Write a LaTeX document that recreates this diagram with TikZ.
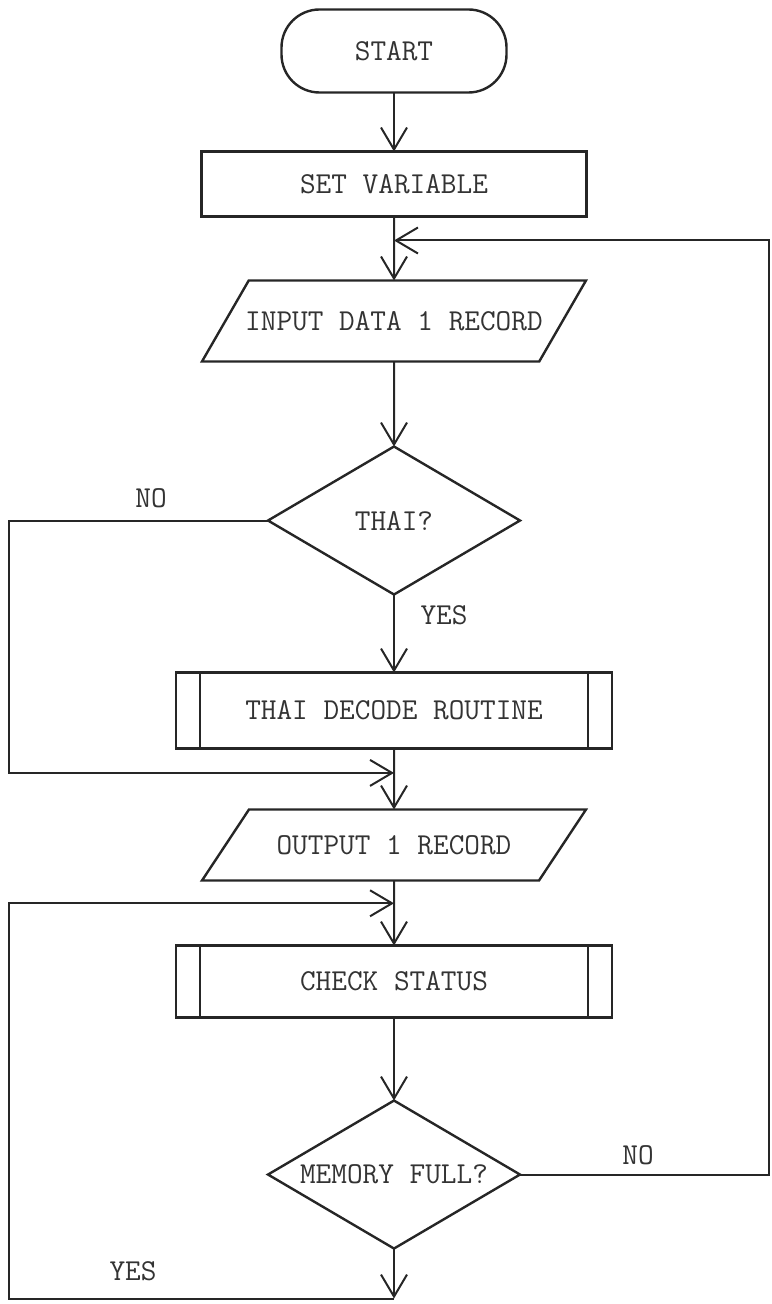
\documentclass[tikz,border=0pt]{standalone}
\usepackage{fontspec}
\usetikzlibrary{positioning,calc,shapes.geometric,arrows.meta}

\begin{document}
\begin{tikzpicture}[
  x=0.5pt, y=0.5pt,
  >={Straight Barb[length=11pt, width=13pt]},
  every node/.style={font=\ttfamily\fontsize{15.2pt}{17pt}\selectfont, text=black!80},
  line/.style={draw=black!85, line width=1pt},
  box/.style={draw=black!85, line width=1.2pt, align=center, inner sep=0pt, outer sep=0pt},
  terminal/.style={box, rounded corners=19pt, minimum width=112.5pt, minimum height=41.5pt},
  process/.style={box, minimum width=192.5pt, minimum height=32.5pt},
  io/.style={box, trapezium, trapezium stretches body, minimum width=192pt,
    inner xsep=-10pt, text height=9pt, text depth=0pt},
  decision/.style={box, diamond, aspect=1.7, minimum width=126pt, minimum height=74pt},
  subroutine/.style={box, minimum width=218pt, minimum height=38pt,
    path picture={
      \draw[line width=1.2pt] ([xshift=12pt]path picture bounding box.north west)
        -- ([xshift=12pt]path picture bounding box.south west);
      \draw[line width=1.2pt] ([xshift=-12pt]path picture bounding box.north east)
        -- ([xshift=-12pt]path picture bounding box.south east);
    }},
  lbl/.style={inner sep=0pt}
]
\useasboundingbox (0,0) rectangle (771,-1304);

% main column
\node[terminal] (start) at (394,-51) {START};
\node[process, below=29.5pt of start] (setvar) {SET VARIABLE};
\node[io, inner ysep=15.75pt, trapezium left angle=60, trapezium right angle=120,
  below=32pt of setvar] (input) {INPUT DATA 1 RECORD};
\node[decision, below=42.5pt of input] (thai) {THAI?};
\node[subroutine, below=39pt of thai] (decode) {THAI DECODE ROUTINE};
\node[io, inner ysep=13.25pt, trapezium left angle=56.5, trapezium right angle=123.5,
  below=30.5pt of decode] (output) {OUTPUT 1 RECORD};
\node[subroutine, minimum height=36pt, below=32.5pt of output] (check) {CHECK STATUS};
\node[decision, below=41.5pt of check] (mem) {MEMORY FULL?};

% branch labels
\node[lbl] (thaino) at ([shift={(-117,22)}]thai.west) {NO};
\node[lbl] (thaiyes) at ([shift={(50,-21)}]thai.south) {YES};
\node[lbl] (memno) at ([shift={(118,19)}]mem.east) {NO};
\node[lbl] (memyes) at ([shift={(-261,-23)}]mem.south) {YES};

% joints and side rails
\coordinate (railL) at (9,0);
\coordinate (railR) at (769,0);
\coordinate (back) at ($(setvar.south)!0.375!(input.north)$);
\coordinate (merge) at ($(decode.south)!0.4!(output.north)$);
\coordinate (loop) at ($(output.south)!0.35!(check.north)$);
\coordinate (bottom) at ([yshift=-25pt]mem.south);

\draw[line, ->] (start) -- (setvar);
\draw[line, ->] (setvar) -- (input);
\draw[line, ->] (input) -- (thai);
\draw[line, ->] (thai) -- (decode);
\draw[line, ->] (decode) -- (output);
\draw[line, ->] (output) -- (check);
\draw[line, ->] (check) -- (mem);
\draw[line, ->] (mem) -- (bottom);

\draw[line, ->] (thai.west) -| (railL |- merge) -- (merge);
\draw[line, ->] (bottom) -| (railL |- loop) -- (loop);
\draw[line, ->] (mem.east) -| (railR |- back) -- (back);

\end{tikzpicture}
\end{document}
